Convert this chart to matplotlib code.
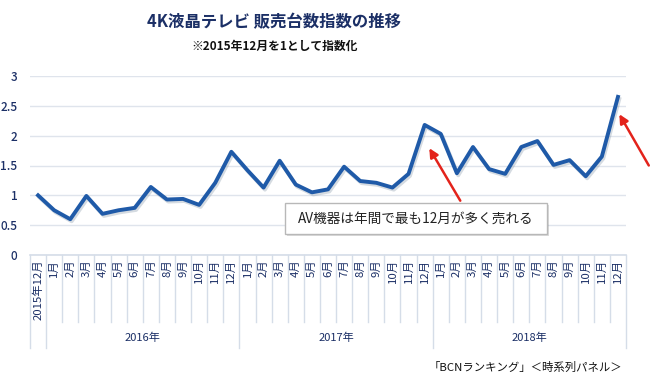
import matplotlib
matplotlib.use("Agg")
import matplotlib.pyplot as plt
import matplotlib.patheffects as pe
from matplotlib.patches import Rectangle

plt.rcParams['font.family'] = ['Noto Sans CJK JP', 'DejaVu Sans']

# data (index, Dec 2015 = 1)
month_labels = ['2015年12月'] + ['%d月' % m for m in range(1, 13)] * 3
years = ['2016年', '2017年', '2018年']
index_values = [1.00, 0.75, 0.60, 0.99, 0.69, 0.75, 0.79, 1.14, 0.93, 0.94, 0.84, 1.21, 1.73,
                1.42, 1.13, 1.58, 1.18, 1.05, 1.10, 1.48, 1.24, 1.21, 1.13, 1.36, 2.18,
                2.03, 1.37, 1.81, 1.44, 1.36, 1.81, 1.91, 1.51, 1.59, 1.32, 1.65, 2.65]

navy = '#1b2f66'
line_col = '#1f5aa8'
grid_col = '#dfe4ec'
sep_col = '#d5dde8'

W, H = 650, 377
fig = plt.figure(figsize=(W / 100, H / 100), dpi=100)
ax = fig.add_axes([30 / W, (H - 255) / H, 596 / W, (255 - 76) / H])

x = list(range(len(index_values)))
ax.plot(x, index_values, color=line_col, lw=2.8, solid_joinstyle='round', zorder=3,
        path_effects=[pe.SimpleLineShadow(offset=(1, -1.5), shadow_color='#8899aa', alpha=0.35),
                      pe.Normal()])

ax.set_xlim(-0.5, len(x) - 0.5)
ax.set_ylim(0, 3)
ax.set_yticks([0, 0.5, 1, 1.5, 2, 2.5, 3])
ax.set_yticklabels(['0', '0.5', '1', '1.5', '2', '2.5', '3'])
ax.grid(axis='y', color=grid_col, lw=1)
ax.set_axisbelow(True)
for s in ['top', 'right', 'left']:
    ax.spines[s].set_visible(False)
ax.spines['bottom'].set_color(sep_col)
ax.spines['bottom'].set_linewidth(1.2)
ax.tick_params(axis='y', length=0, pad=9, labelsize=8.5, labelcolor=navy)
ax.tick_params(axis='x', length=0, pad=3, labelsize=8.2, labelcolor=navy)
ax.set_xticks(x)
ax.set_xticklabels(month_labels, rotation=90, va='top')
for lab in ax.get_yticklabels():
    lab.set_fontweight('medium')

# category separators below the axis
tr = ax.get_xaxis_transform()
for b in range(len(x) + 1):
    edge = b - 0.5
    year_edge = b in (0, 1, 13, 25, len(x))
    ax.plot([edge, edge], [0, -0.52 if year_edge else -0.375], transform=tr,
            color=sep_col, lw=1, clip_on=False)
for k, yl in enumerate(years):
    ax.text(1 + 12 * k + 5.5, -0.465, yl, transform=tr, ha='center', va='center',
            fontsize=8, color=navy)

# annotation box and arrows
ax.add_patch(Rectangle((15.35, 0.35), 16.25, 0.52, facecolor='white', edgecolor='#b8b8b8',
                       lw=1, zorder=4,
                       path_effects=[pe.SimplePatchShadow(offset=(1.5, -1.5), alpha=0.2), pe.Normal()]))
ax.text(23.45, 0.61, 'AV機器は年間で最も12月が多く売れる', ha='center', va='center',
        fontsize=9.8, color='#222222', zorder=5)
arrow = dict(arrowstyle='-|>', color='#e3231b', lw=1.8, mutation_scale=13)
ax.annotate('', xy=(24.2, 1.83), xytext=(26.3, 0.87), arrowprops=arrow, annotation_clip=False)
ax.annotate('', xy=(36.0, 2.40), xytext=(38.0, 1.46), arrowprops=arrow, annotation_clip=False)

fig.text(274 / W, 1 - 22 / H, '4K液晶テレビ 販売台数指数の推移', ha='center', va='center',
         fontsize=11.8, fontweight='bold', color=navy)
fig.text(275 / W, 1 - 46 / H, '※2015年12月を1として指数化', ha='center', va='center',
         fontsize=8.5, fontweight='bold', color='#111111')
fig.text(622 / W, 1 - 367 / H, '「BCNランキング」＜時系列パネル＞', ha='right', va='center',
         fontsize=8.2, color='#111111')

fig.savefig('out.png', dpi=100, facecolor='white')
